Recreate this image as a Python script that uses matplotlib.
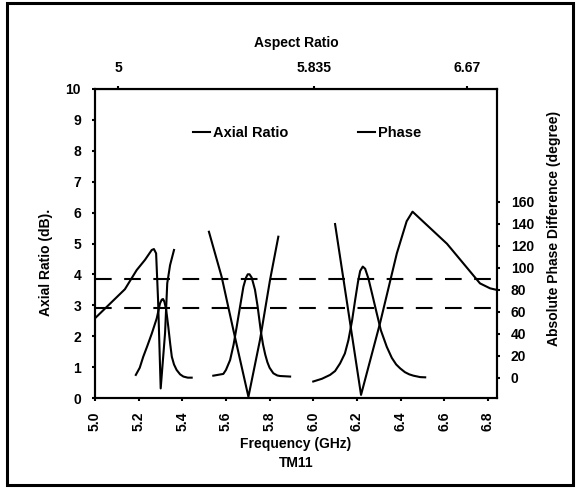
import numpy as np
import matplotlib
matplotlib.use('Agg')
import matplotlib.pyplot as plt
from matplotlib.patches import Rectangle

plt.rcParams['font.family'] = 'Liberation Sans'
plt.rcParams['font.weight'] = 'bold'
plt.rcParams['axes.labelweight'] = 'bold'
plt.rcParams['font.size'] = 10

# Axial ratio (dB) vs frequency (GHz), three measured bands
ar1_f = [5.0, 5.137, 5.191, 5.229, 5.26, 5.27, 5.28, 5.289, 5.301, 5.321, 5.331, 5.344, 5.362]
ar1_v = [2.58, 3.52, 4.14, 4.47, 4.79, 4.82, 4.68, 3.17, 0.31, 2.1, 3.71, 4.3, 4.79]
ar2_f = [5.522, 5.58, 5.634, 5.703, 5.756, 5.802, 5.84]
ar2_v = [5.38, 3.93, 2.2, 0.04, 1.88, 3.82, 5.22]
ar3_f = [6.1, 6.153, 6.219, 6.306, 6.383, 6.428, 6.455, 6.613, 6.764, 6.81, 6.84]
ar3_v = [5.63, 3.17, 0.1, 2.42, 4.68, 5.72, 6.03, 4.99, 3.71, 3.55, 3.5]

# Absolute phase difference (degree)
ph1_f = [5.187, 5.205, 5.221, 5.24, 5.26, 5.283, 5.298, 5.306, 5.312, 5.318, 5.326,
         5.336, 5.345, 5.352, 5.362, 5.374, 5.39, 5.405, 5.425, 5.443]
ph1_v = [2.5, 9, 19, 29, 40, 54, 67.6, 71, 71.5, 69, 62, 46, 30, 19, 12, 7, 3, 1, 0, 0]
ph2_f = [5.542, 5.588, 5.60, 5.619, 5.635, 5.649, 5.665, 5.68, 5.692, 5.70, 5.708,
         5.718, 5.733, 5.745, 5.76, 5.77, 5.78, 5.79, 5.80, 5.817, 5.835, 5.848, 5.894]
ph2_v = [1.8, 3.4, 7, 16, 30, 46, 65, 82.7, 91, 94, 94, 91, 80, 65, 42, 30, 21, 14,
         9, 4, 2, 1.5, 1]
ph3_f = [6.0, 6.04, 6.077, 6.10, 6.123, 6.145, 6.161, 6.178, 6.192, 6.205, 6.215, 6.227,
         6.238, 6.253, 6.27, 6.291, 6.31, 6.337, 6.36, 6.38, 6.398, 6.42, 6.44, 6.459,
         6.49, 6.513]
ph3_v = [-3.5, -1, 2.5, 6, 13, 22, 34, 52, 70.6, 87, 97, 101, 99, 90, 76, 58.5, 43, 28,
         18, 12, 8.5, 5, 3, 1.8, 0.5, 0.3]

ar_ref = 2.9      # 3 dB line
ph_ref = 90       # 90 degree line

freq_ticks = [5.0, 5.2, 5.4, 5.6, 5.8, 6.0, 6.2, 6.4, 6.6, 6.8]
aspect_pos = [5.107, 6.004, 6.703]
aspect_labels = ['5', '5.835', '6.67']

fig = plt.figure(figsize=(5.77, 4.91), dpi=100)
ax = fig.add_axes([95/577, 1-398/491, 402/577, 309/491])
ax2 = ax.twinx()

lw = 1.5
for f, v in [(ar1_f, ar1_v), (ar2_f, ar2_v), (ar3_f, ar3_v)]:
    l_ar, = ax.plot(f, v, color='black', lw=lw)
for f, v in [(ph1_f, ph1_v), (ph2_f, ph2_v), (ph3_f, ph3_v)]:
    l_ph, = ax2.plot(f, v, color='black', lw=lw)

ax.axhline(ar_ref, color='black', lw=1.5, ls=(0, (8, 6)))
ax2.axhline(ph_ref, color='black', lw=1.5, ls=(0, (8, 6)))

ax.set_xlim(5.0, 6.842)
ax.set_ylim(0, 10)
ax2.set_ylim(-18.5, 262.5)

ax.set_xticks(freq_ticks)
ax.set_xticklabels(['%.1f' % t for t in freq_ticks], rotation=90)
ax.set_yticks(range(0, 11))
ax2.set_yticks(range(0, 161, 20))

ax.tick_params(axis='both', length=2, width=1.5, pad=8)
ax2.tick_params(axis='y', length=2, width=1.5, pad=8)

for a in (ax, ax2):
    for s in a.spines.values():
        s.set_linewidth(1.5)

ax.set_xlabel('Frequency (GHz)\nTM11', labelpad=4, linespacing=1.5)
ax.set_ylabel('Axial Ratio (dB).')
ax.yaxis.set_label_coords(-0.104, 0.44)
ax2.set_ylabel('Absolute Phase Difference (degree)')
ax2.yaxis.set_label_coords(1.124, 0.55)

top = ax.secondary_xaxis('top')
top.set_xticks(aspect_pos)
top.set_xticklabels(aspect_labels)
top.tick_params(length=2, width=1.5, pad=8)
top.set_xlabel('Aspect Ratio', labelpad=10)

ax.legend([l_ar, l_ph], ['Axial Ratio', 'Phase'], ncol=2, frameon=False,
          loc='center left', bbox_to_anchor=(0.244, 0.858), borderaxespad=0,
          borderpad=0, handlelength=1.15, handletextpad=0.2, columnspacing=4.8,
          fontsize=10.5)

fig.patches.append(Rectangle((7/577, 1-485/491), 566/577, 482/491,
                             transform=fig.transFigure, fill=False,
                             lw=2.2, edgecolor='black'))

fig.savefig('out.png', dpi=100)
